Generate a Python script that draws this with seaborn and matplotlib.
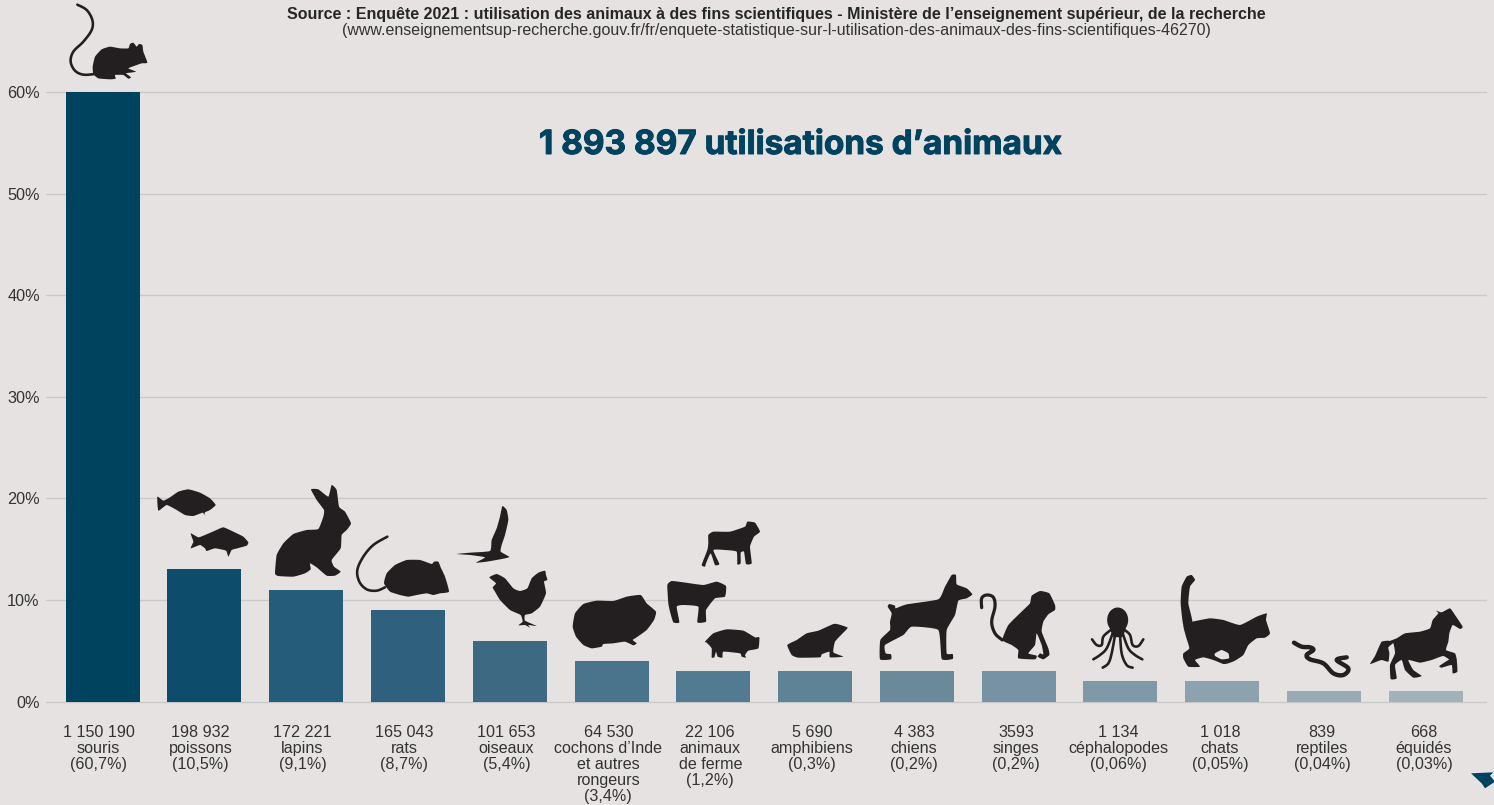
import numpy as np
import pandas as pd
import seaborn as sns
import matplotlib
matplotlib.use("Agg")
import matplotlib.pyplot as plt
import matplotlib.patheffects as pe
from matplotlib.patches import Polygon, Ellipse

categories = ["souris", "poissons", "lapins", "rats", "oiseaux", "cochons d’Inde\net autres\nrongeurs",
              "animaux\nde ferme", "amphibiens", "chiens", "singes", "céphalopodes", "chats", "reptiles", "équidés"]
counts = ["1 150 190", "198 932", "172 221", "165 043", "101 653", "64 530", "22 106",
          "5 690", "4 383", "3593", "1 134", "1 018", "839", "668"]
shares = ["(60,7%)", "(10,5%)", "(9,1%)", "(8,7%)", "(5,4%)", "(3,4%)", "(1,2%)",
          "(0,3%)", "(0,2%)", "(0,2%)", "(0,06%)", "(0,05%)", "(0,04%)", "(0,03%)"]
values = [60, 13, 11, 9, 6, 4, 3, 3, 3, 3, 2, 2, 1, 1]
colors = ["#00435f", "#0e4c6b", "#255c79", "#2f617e", "#3d6a82", "#4a748c", "#527a90",
          "#5e8296", "#6a8a9b", "#7692a4", "#8099a8", "#8ca2af", "#98abb5", "#a2b2b9"]
y_ticks = [0, 10, 20, 30, 40, 50, 60]

BG = "#e6e2e1"; INK = "#231f20"; W, H = 1494, 805

sns.set_theme(style="white")
plt.rcParams["font.family"] = ["Liberation Sans", "DejaVu Sans"]

fig = plt.figure(figsize=(W / 100, H / 100), dpi=100, facecolor=BG)
L, R, T, B = 46, 1486, 92, 701.5
ax = fig.add_axes([L / W, 1 - B / H, (R - L) / W, (B - T) / H], facecolor=BG)

df = pd.DataFrame({"cat": categories, "val": values})
sns.barplot(data=df, x="cat", y="val", hue="cat", palette=colors, saturation=1, legend=False,
            width=74 / 101.77, dodge=False, ax=ax, zorder=3, linewidth=0, edgecolor="none")
c0, step = 102.7, 101.77
ax.set_xlim((L - c0) / step, (R - c0) / step)
ax.set_ylim(0, 60)
ax.set_xlabel(""); ax.set_ylabel("")
sns.despine(ax=ax, left=True, bottom=True, top=True, right=True)

ax.set_yticks(y_ticks, [f"{v}%" for v in y_ticks])
ax.yaxis.grid(True, color="#c9c9c9", lw=1.0, zorder=0)
ax.set_axisbelow(True)
for g in ax.get_ygridlines():
    g.set_clip_on(False)
ax.tick_params(axis="y", length=0, pad=4.5, labelsize=11.7, labelcolor="#333333")

n = len(categories)
shift = np.linspace(4.2, 1.7, n) / step
ax.set_xticks(np.arange(n) - shift,
              [f"{c}\n{a}\n{s}" for c, a, s in zip(counts, categories, shares)])
ax.tick_params(axis="x", length=0, pad=17, labelsize=11.65, labelcolor="#333333")
for lab in ax.get_xticklabels():
    lab.set_linespacing(1.09)
    lab.set_verticalalignment("top")

fig.text(776 / W, 1 - 14.5 / H, "Source : Enquête 2021 : utilisation des animaux à des fins scientifiques - Ministère de l’enseignement supérieur, de la recherche",
         ha="center", va="center", fontsize=11.5, fontweight="bold", color="#262626")
fig.text(776 / W, 1 - 30 / H, "(www.enseignementsup-recherche.gouv.fr/fr/enquete-statistique-sur-l-utilisation-des-animaux-des-fins-scientifiques-46270)",
         ha="center", va="center", fontsize=11.55, color="#333333")
fig.text(801 / W, 1 - 145 / H, "1 893 897 utilisations d’animaux", ha="center", va="center",
         fontsize=24, fontweight="bold", color="#00435f", family=["Inter", "DejaVu Sans"],
         path_effects=[pe.withStroke(linewidth=0.7, foreground="#00435f")])

# decorative silhouettes, drawn on a full-figure overlay in pixel space
ov = fig.add_axes([0, 0, 1, 1], facecolor="none", zorder=5)
ov.set_xlim(0, W); ov.set_ylim(H, 0); ov.axis("off")

def spline(p, s, closed=True, k=8):
    p = np.asarray(p, float)
    m = len(p)
    out = []
    idx = range(m) if closed else range(m - 1)
    for i in idx:
        if closed:
            p0, p1, p2, p3 = p[(i - 1) % m], p[i], p[(i + 1) % m], p[(i + 2) % m]
        else:
            p0, p1, p2, p3 = p[max(i - 1, 0)], p[i], p[i + 1], p[min(i + 2, m - 1)]
        m1, m2 = s * (p2 - p0), s * (p3 - p1)
        for t in np.linspace(0, 1, k, endpoint=False):
            h = np.array([2*t**3 - 3*t**2 + 1, t**3 - 2*t**2 + t, -2*t**3 + 3*t**2, t**3 - t**2])
            out.append(h[0] * p1 + h[1] * m1 + h[2] * p2 + h[3] * m2)
    if not closed:
        out.append(p[-1])
    return np.array(out)

def px(pts, o):
    return np.asarray(pts, float) / 3 + np.asarray(o)

def shape(pts, o, color=INK):
    ov.add_patch(Polygon(spline(px(pts, o), .22), closed=True, fc=color, ec="none"))

def stroke(pts, o, w=2.2):
    q = spline(px(pts, o), .5, closed=False)
    ov.plot(q[:, 0], q[:, 1], color=INK, lw=w * .72, solid_capstyle="round", solid_joinstyle="round")

# mouse
o = (60, 0)
shape([(98,200),(105,170),(125,148),(150,140),(180,145),(205,145),(210,132),(220,128),(230,140),(237,132),(247,135),(250,155),(262,188),(245,190),(225,197),(205,205),(228,215),(210,218),(198,220),(213,232),(205,236),(190,225),(165,225),(167,236),(150,238),(115,235),(100,222)], o)
stroke([(52,14),(80,30),(97,60),(95,90),(70,125),(40,155),(32,185),(45,212),(70,224),(105,222)], o, 2.6)
# fish, rabbit, rat
o = (150, 480)
shape([(22,50),(40,62),(60,52),(85,35),(115,28),(150,38),(180,55),(197,75),(180,90),(165,97),(163,105),(158,98),(130,108),(105,105),(80,90),(50,75),(25,92)], o)
shape([(122,160),(145,172),(165,165),(195,152),(220,142),(250,155),(280,170),(295,187),(290,197),(262,205),(245,210),(235,230),(228,212),(195,205),(170,213),(165,205),(150,195),(122,205),(130,185)], o)
shape([(375,280),(380,225),(400,190),(430,162),(470,150),(505,147),(520,110),(522,90),(500,60),(483,28),(505,28),(535,50),(545,15),(560,30),(567,80),(585,95),(603,130),(590,150),(575,165),(572,205),(545,240),(552,260),(572,275),(555,287),(530,287),(500,262),(480,250),(482,268),(465,280),(430,290),(385,288)], o)
shape([(702,310),(710,280),(735,255),(770,240),(810,240),(845,252),(852,245),(865,245),(872,262),(885,290),(897,335),(870,340),(850,345),(830,340),(800,345),(775,350),(750,345),(720,335)], o)
stroke([(712,170),(670,195),(640,230),(622,270),(628,305),(650,328),(680,332),(705,322)], o, 2.6)
# bird, rooster, guinea pig, sheep, cow, pig
o = (450, 500)
shape([(20,162),(60,158),(120,153),(125,120),(140,85),(150,50),(157,18),(170,30),(175,60),(165,105),(155,135),(152,155),(178,171),(150,178),(110,185),(78,188),(105,172),(60,165)], o)
shape([(118,232),(140,222),(165,235),(190,265),(210,273),(232,265),(245,235),(265,218),(285,212),(288,225),(292,240),(282,245),(288,280),(270,320),(245,340),(225,345),(225,362),(260,378),(235,375),(240,383),(225,375),(205,376),(218,365),(212,345),(180,330),(150,300),(135,275),(128,262),(138,250)], o)
shape([(368,380),(375,340),(400,312),(440,302),(490,303),(530,290),(572,285),(590,310),(618,335),(612,360),(590,390),(560,412),(548,420),(560,430),(550,436),(525,425),(490,430),(460,432),(455,440),(425,445),(400,435),(378,410)], o)
shape([(775,105),(790,95),(840,95),(885,80),(892,65),(915,68),(930,95),(912,110),(900,140),(905,190),(888,192),(882,155),(872,158),(872,190),(862,193),(860,155),(825,150),(790,150),(808,192),(795,195),(782,160),(768,190),(765,200),(755,195),(772,150),(775,130)], o)
shape([(652,255),(665,243),(700,247),(760,255),(800,245),(828,258),(825,290),(795,295),(768,330),(768,365),(742,367),(745,320),(700,315),(680,320),(688,367),(670,367),(660,335),(655,310)], o)
shape([(765,425),(790,400),(830,388),(880,392),(915,412),(928,412),(925,445),(895,452),(885,465),(888,473),(875,470),(870,460),(820,455),(817,473),(803,470),(798,455),(793,472),(785,472),(785,445),(770,428)], o)
# frog, dog, monkey
o = (770, 565)
shape([(52,240),(80,225),(110,205),(145,197),(190,177),(205,178),(233,188),(218,205),(195,230),(190,262),(220,275),(180,277),(178,260),(155,268),(150,277),(85,278),(65,270)], o)
shape([(330,283),(331,225),(360,195),(360,170),(365,145),(353,125),(358,117),(375,122),(377,130),(410,118),(505,103),(525,65),(545,30),(558,30),(560,58),(590,70),(607,88),(590,100),(565,107),(555,150),(530,195),(530,265),(548,267),(548,282),(515,282),(505,195),(425,185),(400,210),(345,240),(347,265),(363,268),(363,283)], o)
shape([(697,225),(715,180),(760,135),(780,115),(785,92),(810,78),(838,85),(855,120),(855,135),(835,148),(820,170),(815,200),(835,250),(838,270),(820,283),(803,275),(810,265),(820,268),(815,240),(800,205),(795,240),(775,265),(800,272),(795,283),(745,280),(745,255),(725,240)], o)
stroke([(697,225),(675,205),(665,170),(675,125),(670,97),(650,90),(635,100),(635,128)], o, 3.2)
# octopus, cat, snake, horse
o = (1080, 570)
ov.add_patch(Ellipse(px([(113, 150)], o)[0], 21, 25, fc=INK, ec="none"))
shape([(90,170),(136,170),(128,200),(100,200)], o)
for t in [[(92,180),(70,200),(65,225),(50,225),(36,208)],
          [(98,190),(80,235),(60,255),(40,268)],
          [(106,190),(95,250),(85,280),(68,293)],
          [(120,190),(125,250),(140,285),(158,293)],
          [(128,190),(145,235),(165,255),(187,268)],
          [(134,180),(150,195),(158,225),(175,228),(190,208)]]:
    stroke(t, o, 2.6)
shape([(310,165),(302,100),(305,50),(320,20),(335,15),(345,30),(330,50),(325,100),(337,155)], o)
shape([(310,165),(337,155),(390,145),(430,150),(480,165),(530,140),(560,130),(558,150),(570,190),(555,203),(530,205),(505,225),(490,255),(465,272),(445,280),(430,282),(400,270),(370,262),(345,270),(360,290),(325,290),(310,265),(310,250),(328,235),(318,200)], o)
shape([(405,250),(425,240),(445,250),(447,265),(425,268),(405,258)], o, color=BG)
stroke([(642,218),(665,230),(690,232),(700,240),(680,255),(690,268),(730,280),(760,310),(790,315),(805,295),(770,270),(800,262)], o, 4.4)
shape([(925,215),(950,205),(975,190),(1020,185),(1050,175),(1058,150),(1075,130),(1068,122),(1085,127),(1110,115),(1125,135),(1148,170),(1140,177),(1118,165),(1108,190),(1105,215),(1098,240),(1125,250),(1130,270),(1118,275),(1090,258),(1055,270),(1020,278),(985,270),(1000,300),(1025,318),(1000,323),(975,300),(965,270),(945,285),(950,325),(932,327),(930,285),(945,250),(940,220)], o)
shape([(925,212),(905,215),(895,235),(885,258),(870,282),(890,275),(905,270),(925,275),(928,250),(925,232),(940,218)], o)
shape([(1118,262),(1130,270),(1132,305),(1118,310),(1115,285),(1085,293),(1078,288),(1105,270)], o)
# arrow
o = (1440, 755)
ov.add_patch(Polygon(px([(93,55),(160,52),(150,62),(165,80),(150,90),(135,100),(125,85)], o), closed=True, fc="#00435f", ec="none"))

fig.savefig("out.png", dpi=100, facecolor=BG)
